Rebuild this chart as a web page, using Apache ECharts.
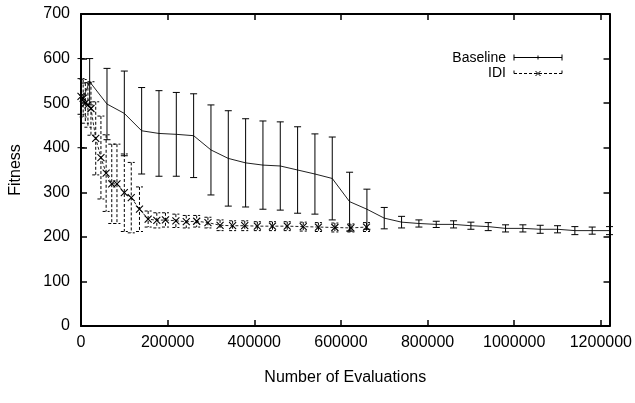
<!DOCTYPE html>
<html>
<head>
<meta charset="utf-8">
<title>Fitness vs Number of Evaluations</title>
<script src="https://cdn.jsdelivr.net/npm/echarts@6/dist/echarts.min.js"></script>
<style>
  html, body { margin: 0; padding: 0; background: #fff; }
  #chart { width: 635px; height: 403px; }
</style>
</head>
<body>
<div id="chart"></div>
<script>
// Baseline: evaluations, mean fitness, error half-width
var baselineX = [0, 20000, 60000, 100000, 140000, 180000, 220000, 260000, 300000, 340000,
  380000, 420000, 460000, 500000, 540000, 580000, 620000, 660000, 700000, 740000,
  780000, 820000, 860000, 900000, 940000, 980000, 1020000, 1060000, 1100000, 1140000,
  1180000, 1220000];
var baselineY = [500, 548, 498, 477, 438, 432, 430, 427, 395, 376,
  366, 361, 359, 350, 341, 331, 279, 262, 242, 233,
  230, 228, 228, 225, 223, 219, 219, 217, 217, 214,
  214, 214];
var baselineErr = [100, 52, 80, 95, 97, 96, 94, 94, 101, 107,
  99, 99, 99, 97, 90, 93, 66, 45, 24, 13,
  8, 7, 8, 8, 9, 8, 8, 9, 8, 9,
  8, 9];

// IDI
var idiX = [0, 5000, 10000, 16000, 23000, 34000, 46000, 58000, 71000, 83000,
  100000, 116000, 135000, 155000, 175000, 195000, 219000, 243000, 267000, 293000,
  321000, 350000, 378000, 407000, 442000, 476000, 513000, 548000, 586000, 623000,
  659000];
var idiY = [515, 511, 500, 496, 488, 421, 378, 343, 319, 319,
  299, 288, 262, 240, 237, 238, 236, 234, 235, 232,
  226, 225, 225, 224, 224, 224, 223, 222, 221, 220,
  222];
var idiErr = [40, 42, 45, 50, 60, 82, 93, 86, 89, 89,
  87, 79, 50, 18, 17, 16, 15, 14, 13, 12,
  12, 11, 11, 10, 10, 10, 10, 10, 10, 9,
  10];

var xMin = 0, xMax = 1220000, xStep = 200000;
var yMin = 0, yMax = 700, yStep = 100;

var FONT = 'Liberation Sans';

function zip(xs, ys) {
  return xs.map(function (x, i) { return [x, ys[i]]; });
}

// 誤差棒 (custom series)
function errorBars(name, xs, ys, errs, dashed, cross) {
  var data = xs.map(function (x, i) { return [x, ys[i] - errs[i], ys[i] + errs[i], ys[i]]; });
  return {
    type: 'custom',
    name: name,
    silent: true,
    z: 3,
    encode: { x: 0, y: [1, 2] },
    data: data,
    renderItem: function (params, api) {
      var lo = api.coord([api.value(0), api.value(1)]);
      var hi = api.coord([api.value(0), api.value(2)]);
      var mid = api.coord([api.value(0), api.value(3)]);
      var w = 3.5;
      var st = { stroke: '#000', lineWidth: 1, lineDash: dashed ? [3, 2] : null, fill: null };
      var kids = [
        { type: 'line', shape: { x1: hi[0], y1: hi[1], x2: lo[0], y2: lo[1] }, style: st },
        { type: 'line', shape: { x1: hi[0] - w, y1: hi[1], x2: hi[0] + w, y2: hi[1] }, style: st },
        { type: 'line', shape: { x1: lo[0] - w, y1: lo[1], x2: lo[0] + w, y2: lo[1] }, style: st }
      ];
      if (cross) {
        var c = 3.5;
        var cs = { stroke: '#000', lineWidth: 1.1, fill: null };
        kids.push({ type: 'line', shape: { x1: mid[0] - c, y1: mid[1] - c, x2: mid[0] + c, y2: mid[1] + c }, style: cs });
        kids.push({ type: 'line', shape: { x1: mid[0] - c, y1: mid[1] + c, x2: mid[0] + c, y2: mid[1] - c }, style: cs });
      }
      return { type: 'group', children: kids };
    }
  };
}

var myChart = echarts.init(document.getElementById('chart'), null, { renderer: 'canvas' });

var tickFmt = function (v) { return v % xStep === 0 ? String(v) : ''; };

option = {
  animation: false,
  backgroundColor: '#fff',
  grid: { left: 81, right: 25, top: 14, bottom: 77 },
  xAxis: [
    {
      type: 'value', position: 'bottom', min: xMin, max: xMax, interval: xStep,
      axisLine: { onZero: false, lineStyle: { color: '#000', width: 2 } },
      axisTick: { inside: true, length: 6, lineStyle: { color: '#000', width: 1.5 } },
      axisLabel: { color: '#000', fontSize: 16, fontFamily: FONT, margin: 9, formatter: tickFmt },
      splitLine: { show: false },
      name: 'Number of Evaluations', nameLocation: 'middle', nameGap: 44,
      nameTextStyle: { color: '#000', fontSize: 16, fontFamily: FONT }
    },
    {
      type: 'value', position: 'top', min: xMin, max: xMax, interval: xStep,
      axisLine: { onZero: false, lineStyle: { color: '#000', width: 2 } },
      axisTick: { inside: true, length: 6, lineStyle: { color: '#000', width: 1.5 } },
      axisLabel: { show: false },
      splitLine: { show: false }
    }
  ],
  yAxis: [
    {
      type: 'value', position: 'left', min: yMin, max: yMax, interval: yStep,
      axisLine: { show: true, onZero: false, lineStyle: { color: '#000', width: 2 } },
      axisTick: { show: true, inside: true, length: 6, lineStyle: { color: '#000', width: 1.5 } },
      axisLabel: { color: '#000', fontSize: 16, fontFamily: FONT, margin: 11 },
      splitLine: { show: false },
      name: 'Fitness', nameLocation: 'middle', nameGap: 57,
      nameTextStyle: { color: '#000', fontSize: 16, fontFamily: FONT }
    },
    {
      type: 'value', position: 'right', min: yMin, max: yMax, interval: yStep,
      axisLine: { show: true, onZero: false, lineStyle: { color: '#000', width: 2 } },
      axisTick: { show: true, inside: true, length: 6, lineStyle: { color: '#000', width: 1.5 } },
      axisLabel: { show: false },
      splitLine: { show: false }
    }
  ],
  graphic: [
    { type: 'text', x: 506, y: 58, style: { text: 'Baseline', align: 'right', verticalAlign: 'middle', textAlign: 'right', textVerticalAlign: 'middle', fontSize: 14, fontFamily: FONT, fill: '#000' } },
    { type: 'text', x: 506, y: 73, style: { text: 'IDI', align: 'right', verticalAlign: 'middle', textAlign: 'right', textVerticalAlign: 'middle', fontSize: 14, fontFamily: FONT, fill: '#000' } },
    { type: 'line', shape: { x1: 514, y1: 57.5, x2: 562, y2: 57.5 }, style: { stroke: '#000', lineWidth: 1 } },
    { type: 'line', shape: { x1: 514, y1: 54.5, x2: 514, y2: 60.5 }, style: { stroke: '#000', lineWidth: 1 } },
    { type: 'line', shape: { x1: 562, y1: 54.5, x2: 562, y2: 60.5 }, style: { stroke: '#000', lineWidth: 1 } },
    { type: 'line', shape: { x1: 538, y1: 55.5, x2: 538, y2: 59.5 }, style: { stroke: '#000', lineWidth: 1 } },
    { type: 'line', shape: { x1: 514, y1: 73.5, x2: 562, y2: 73.5 }, style: { stroke: '#000', lineWidth: 1, lineDash: [3, 2] } },
    { type: 'line', shape: { x1: 514, y1: 70.5, x2: 514, y2: 73.5 }, style: { stroke: '#000', lineWidth: 1 } },
    { type: 'line', shape: { x1: 562, y1: 70.5, x2: 562, y2: 73.5 }, style: { stroke: '#000', lineWidth: 1 } },
    { type: 'line', shape: { x1: 535.5, y1: 71, x2: 540.5, y2: 76 }, style: { stroke: '#000', lineWidth: 1 } },
    { type: 'line', shape: { x1: 535.5, y1: 76, x2: 540.5, y2: 71 }, style: { stroke: '#000', lineWidth: 1 } }
  ],
  series: [
    {
      type: 'line', name: 'Baseline', data: zip(baselineX, baselineY),
      showSymbol: false, silent: true, z: 2,
      lineStyle: { color: '#222', width: 1 }
    },
    errorBars('Baseline', baselineX, baselineY, baselineErr, false, false),
    {
      type: 'line', name: 'IDI', data: zip(idiX, idiY),
      showSymbol: false, silent: true, z: 2,
      lineStyle: { color: '#222', width: 1, type: [3, 2] }
    },
    errorBars('IDI', idiX, idiY, idiErr, true, true)
  ]
};
myChart.setOption(option);
</script>
</body>
</html>
